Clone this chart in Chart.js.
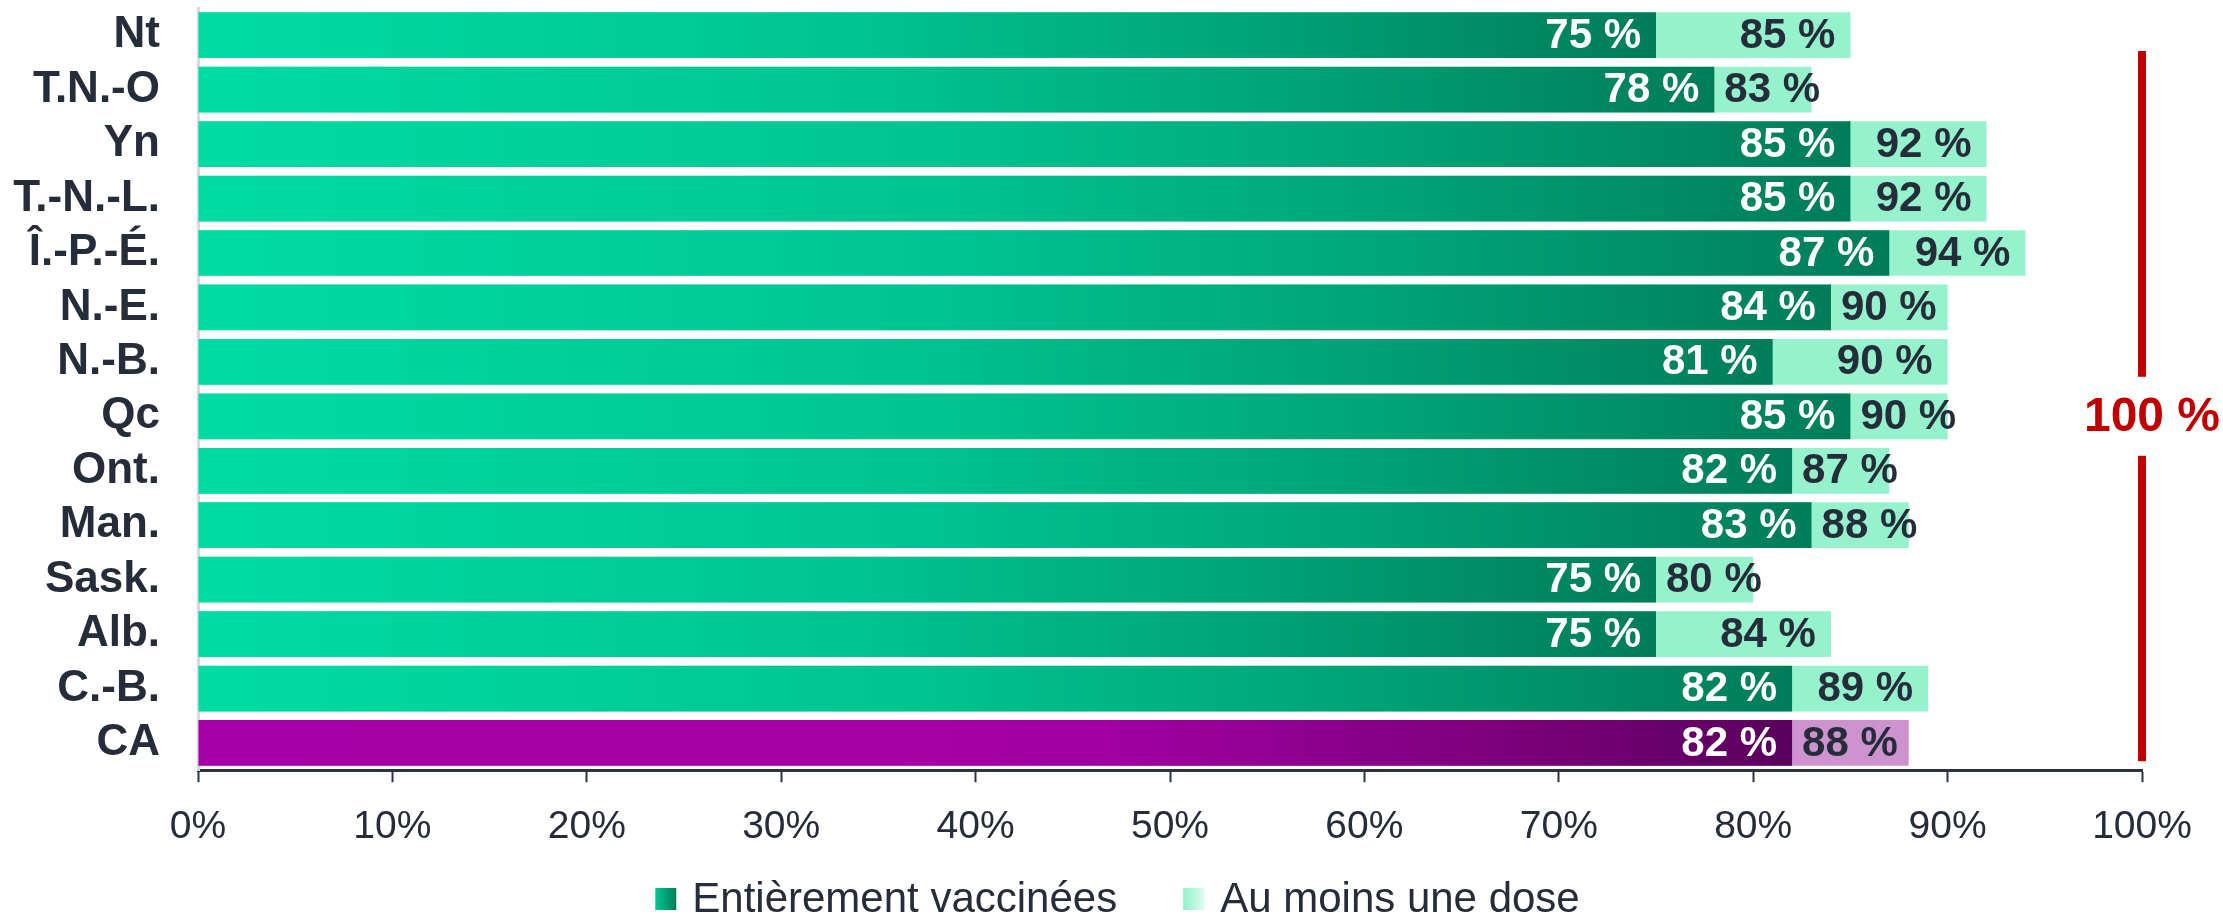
<!DOCTYPE html>
<html lang="fr">
<head>
<meta charset="utf-8">
<title>Couverture vaccinale par province</title>
<script src="https://cdn.jsdelivr.net/npm/chart.js@4.4.0/dist/chart.umd.min.js"></script>
<style>
  html, body { margin: 0; padding: 0; background: #ffffff; }
  canvas { display: block; }
</style>
</head>
<body>
<canvas id="chart" width="2223" height="916"></canvas>
<script>
// Données
const provinces = ['Nt', 'T.N.-O', 'Yn', 'T.-N.-L.', 'Î.-P.-É.', 'N.-E.', 'N.-B.', 'Qc', 'Ont.', 'Man.', 'Sask.', 'Alb.', 'C.-B.', 'CA'];
const entierementVaccinees = [75, 78, 85, 85, 87, 84, 81, 85, 82, 83, 75, 75, 82, 82];
const auMoinsUneDose = [85, 83, 92, 92, 94, 90, 90, 90, 87, 88, 80, 84, 89, 88];
const seriesLabels = ['Entièrement vaccinées', 'Au moins une dose'];
const lignePlafond = 100;
const lignePlafondTexte = '100 %';

const FONT = '"Liberation Sans", Arial, sans-serif';
const TEXT_DARK = '#252D3A';
const COLORS = {
  full: [[0, '#00DCA4'], [0.45, '#00C490'], [0.75, '#00A074'], [1, '#007C59']],
  fullCA: [[0, '#A800A8'], [0.55, '#A300A4'], [0.8, '#7F007F'], [1, '#5A005C']],
  one: '#95F2CD',
  oneCA: '#CE92CE',
  red: '#C00000'
};

function isCanada(i) {
  return provinces[i] === 'CA';
}

/**
 * Dégradé horizontal pour les barres « entièrement vaccinées »
 */
function fullColor(ctx) {
  const chart = ctx.chart;
  const stops = ctx.dataIndex !== undefined && isCanada(ctx.dataIndex) ? COLORS.fullCA : COLORS.full;
  if (ctx.type !== 'data' || !chart.chartArea) return stops[1][1];
  const x = chart.scales.x;
  const x0 = x.getPixelForValue(0);
  const x1 = x.getPixelForValue(ctx.raw);
  const g = chart.ctx.createLinearGradient(x0, 0, x1, 0);
  stops.forEach(([o, c]) => g.addColorStop(o, c));
  return g;
}

function oneColor(ctx) {
  if (ctx.type !== 'data') return COLORS.one;
  return isCanada(ctx.dataIndex) ? COLORS.oneCA : COLORS.one;
}

/**
 * Étiquettes de valeur sur les barres
 */
const valueLabels = {
  id: 'valueLabels',
  afterDatasetsDraw(chart) {
    const { ctx, scales: { x, y } } = chart;
    ctx.save();
    ctx.font = `bold 42px ${FONT}`;
    ctx.textBaseline = 'middle';
    provinces.forEach((p, i) => {
      const yc = y.getPixelForValue(i) + 1;
      const xFull = x.getPixelForValue(entierementVaccinees[i]);
      const xOne = x.getPixelForValue(auMoinsUneDose[i]);

      ctx.fillStyle = '#ffffff';
      ctx.textAlign = 'right';
      ctx.fillText(entierementVaccinees[i] + ' %', xFull - 15, yc);

      const t = auMoinsUneDose[i] + ' %';
      const w = ctx.measureText(t).width;
      let left = xOne - 15 - w;
      if (left < xFull + 10) left = xFull + 10;
      ctx.fillStyle = TEXT_DARK;
      ctx.textAlign = 'left';
      ctx.fillText(t, left, yc);
    });
    ctx.restore();
  }
};

/**
 * Ligne rouge verticale à 100 %
 */
const ligneRouge = {
  id: 'ligneRouge',
  afterDatasetsDraw(chart) {
    const { ctx, chartArea, scales: { x } } = chart;
    const xp = x.getPixelForValue(lignePlafond);
    const top = chartArea.top + 43;
    const bottom = chartArea.bottom - 9;
    const ty = chartArea.top + (chartArea.bottom - chartArea.top) * 0.535;
    ctx.save();
    ctx.fillStyle = COLORS.red;
    ctx.fillRect(xp - 4, top, 8, ty - 39 - top);
    ctx.fillRect(xp - 4, ty + 40, 8, bottom - ty - 40);
    ctx.font = `bold 48px ${FONT}`;
    ctx.textAlign = 'center';
    ctx.textBaseline = 'middle';
    ctx.fillText(lignePlafondTexte, xp + 10, ty + 2);
    ctx.restore();
  }
};

/**
 * Légende en bas, carrés en dégradé
 */
const legendeBas = {
  id: 'legendeBas',
  afterDraw(chart) {
    const ctx = chart.ctx;
    ctx.save();
    ctx.font = `42px ${FONT}`;
    ctx.textBaseline = 'middle';
    const box = 21, gapText = 16, gapItem = 66;
    const widths = seriesLabels.map(t => ctx.measureText(t).width);
    const total = widths.reduce((s, w) => s + box + gapText + w, 0) + gapItem * (seriesLabels.length - 1);
    let xs = chart.width / 2 - total / 2 + 6;
    const yc = chart.height - 17;
    const boxStops = [['#00C896', '#007D58'], ['#8EF1C8', '#DDFBEF']];
    seriesLabels.forEach((t, i) => {
      const g = ctx.createLinearGradient(xs, 0, xs + box, 0);
      g.addColorStop(0, boxStops[i][0]);
      g.addColorStop(1, boxStops[i][1]);
      ctx.fillStyle = g;
      ctx.fillRect(xs, yc - 11, box, 22);
      ctx.fillStyle = TEXT_DARK;
      ctx.textAlign = 'left';
      ctx.fillText(t, xs + box + gapText, yc + 1);
      xs += box + gapText + widths[i] + gapItem;
    });
    ctx.restore();
  }
};

const chart = new Chart(document.getElementById('chart'), {
  type: 'bar',
  data: {
    labels: provinces,
    datasets: [
      {
        label: seriesLabels[0],
        data: entierementVaccinees,
        backgroundColor: fullColor,
        borderWidth: 0,
        barPercentage: 0.84,
        categoryPercentage: 1
      },
      {
        label: seriesLabels[1],
        data: auMoinsUneDose,
        backgroundColor: oneColor,
        borderWidth: 0,
        barPercentage: 0.84,
        categoryPercentage: 1
      }
    ]
  },
  options: {
    indexAxis: 'y',
    responsive: false,
    animation: false,
    layout: { padding: { top: 8, left: 13, right: 81, bottom: 43 } },
    plugins: {
      legend: { display: false },
      tooltip: { enabled: false }
    },
    scales: {
      x: {
        min: 0,
        max: 100,
        stacked: false,
        ticks: {
          stepSize: 10,
          padding: 22,
          maxRotation: 0,
          color: TEXT_DARK,
          font: { family: FONT, size: 39 },
          callback: v => v + '%'
        },
        grid: {
          display: true,
          drawOnChartArea: false,
          drawTicks: true,
          tickLength: 12,
          tickWidth: 2,
          tickColor: '#2B3340'
        },
        border: { display: true, color: '#2B3340', width: 3 }
      },
      y: {
        stacked: true,
        afterFit: scale => {
          scale.width = 185;
          scale.paddingTop = 0;
          scale.paddingBottom = 0;
        },
        ticks: {
          autoSkip: false,
          padding: 30,
          color: TEXT_DARK,
          font: { family: FONT, size: 44, weight: 'bold' }
        },
        grid: { display: false },
        border: { display: true, color: '#D9D9D9', width: 3 }
      }
    }
  },
  plugins: [valueLabels, ligneRouge, legendeBas]
});
</script>
</body>
</html>
